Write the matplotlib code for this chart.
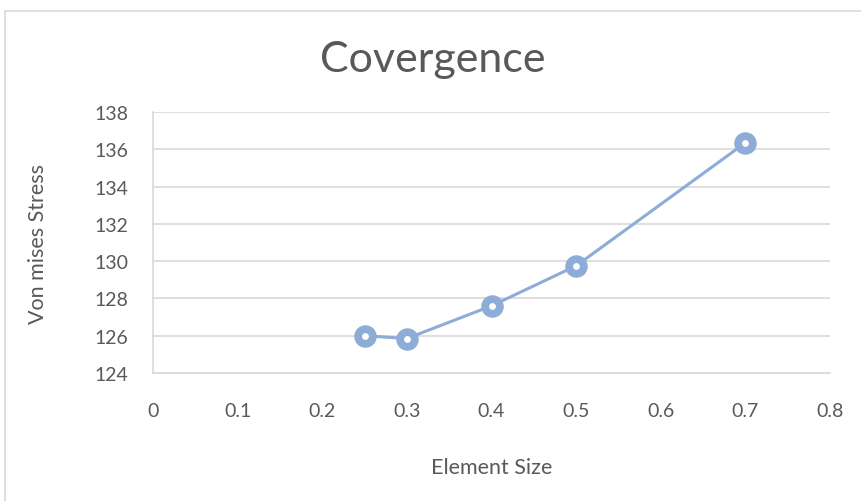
import numpy as np
from matplotlib import pyplot as plt
from matplotlib.patches import Rectangle

element_size = [0.25, 0.3, 0.4, 0.5, 0.7]
von_mises = [126.0, 125.85, 127.6, 129.75, 136.35]
x_ticks = [0, 0.1, 0.2, 0.3, 0.4, 0.5, 0.6, 0.7, 0.8]
y_ticks = [124, 126, 128, 130, 132, 134, 136, 138]

text_grey = '#595959'
line_blue = '#8EACD8'

fig = plt.figure(figsize=(8.61, 5.02), dpi=100)
# chart border like the excel frame
fig.patches.append(Rectangle((5 / 861, -0.01), 1.0, 1 - 12 / 502 + 0.01,
                             transform=fig.transFigure, fill=False,
                             edgecolor='#D9D9D9', linewidth=1.2))

ax = fig.add_axes([153 / 861, 1 - 374 / 502, 677 / 861, 261 / 502])

ax.plot(element_size, von_mises, color=line_blue, linewidth=2.2,
        marker='o', markersize=10.6, markerfacecolor='white',
        markeredgecolor=line_blue, markeredgewidth=5.6, zorder=3)

ax.set_xlim(0, 0.8)
ax.set_ylim(124, 138)
ax.set_xticks(x_ticks)
ax.set_xticklabels([str(t) for t in x_ticks])
ax.set_yticks(y_ticks)

ax.grid(True, axis='y', color='#D9D9D9', linewidth=1.2)
ax.set_axisbelow(True)
for side in ['top', 'right']:
    ax.spines[side].set_visible(False)
ax.spines['left'].set_color('#D9D9D9')
ax.spines['bottom'].set_color('#D9D9D9')
ax.spines['left'].set_linewidth(1.2)
ax.spines['bottom'].set_linewidth(1.2)

ax.tick_params(axis='both', length=0, labelsize=14, labelcolor=text_grey)
ax.tick_params(axis='x', pad=21)
ax.tick_params(axis='y', pad=18)
for lab in ax.get_xticklabels() + ax.get_yticklabels():
    lab.set_family('Lato')

ax.set_xlabel('Element Size', fontsize=15.5, color=text_grey, family='Lato', labelpad=27)
ax.set_ylabel('Von mises Stress', fontsize=15.5, color=text_grey, family='Lato', labelpad=33)

fig.text(0.5 + 0.5 * (5 / 861), 1 - 72 / 502, 'Covergence', ha='center', va='baseline',
         fontsize=31, color=text_grey, family='Lato')

fig.savefig('out.png', dpi=100)
